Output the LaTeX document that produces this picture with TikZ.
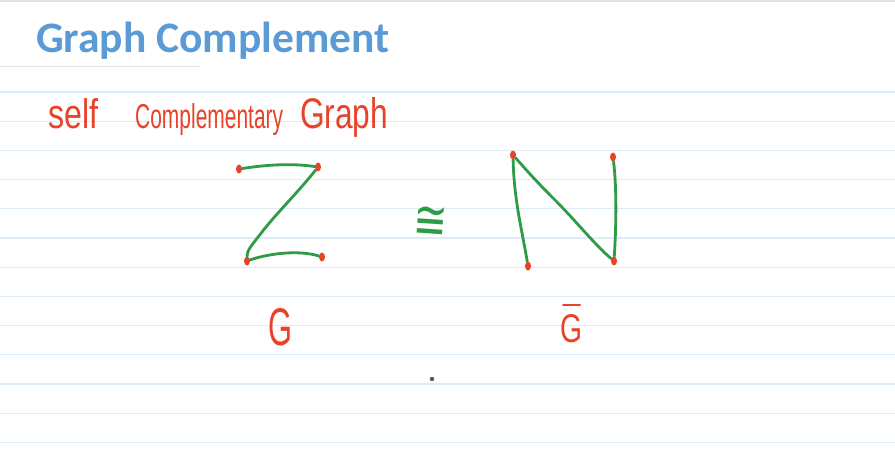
\documentclass[tikz,border=0pt]{standalone}
\usepackage{fontspec}
\usetikzlibrary{shapes.geometric}
\setmainfont{Liberation Sans}
\newfontfamily\titlefont{Carlito}
\newfontfamily\symfont{DejaVu Sans}
\definecolor{rule}{RGB}{222,236,248}
\definecolor{titleblue}{RGB}{91,155,213}
\definecolor{ink}{RGB}{232,66,40}
\definecolor{edge}{RGB}{46,155,70}
\begin{document}
\begin{tikzpicture}[x=1pt,y=-1pt,
  ruleline/.style={draw=rule,line width=1.2pt},
  vtx/.style={ellipse,fill=ink,inner sep=0pt,minimum width=6pt,minimum height=9pt},
  gedge/.style={draw=edge,line width=2.8pt,line cap=round,line join=round},
  hand/.style={text=ink,inner sep=0pt,anchor=base west}]
\useasboundingbox (0,0) rectangle (895,466);
\fill[white] (0,0) rectangle (895,466);
\draw[draw=black!12,line width=2pt] (0,1) -- (895,1);
\draw[draw=black!10,line width=1pt] (0,66) -- (200,66);
\foreach \k in {0,...,12} {\draw[ruleline] (0,92+29.2*\k) -- (895,92+29.2*\k);}
\node[anchor=base west,inner sep=0pt,text=titleblue] (title) at (36,52)
  {\titlefont\bfseries\fontsize{43.5}{48}\selectfont Graph Complement};
% handwritten subtitle
\node[hand] (w1) at (48,128) {\resizebox{50pt}{30pt}{self}};
\node[hand] (w2) at (135,128) {\resizebox{148pt}{25pt}{Complementary}};
\node[hand] (w3) at (300,128) {\resizebox{88pt}{31pt}{Graph}};
% graph G (Z shape)
\node[vtx] (a) at (239,169) {};
\node[vtx] (b) at (318,167) {};
\node[vtx] (c) at (247,261) {};
\node[vtx] (d) at (322,257) {};
\draw[gedge] (a) .. controls (265,165) and (290,163) .. (b);
\draw[gedge] (b) .. controls (300,190) and (275,215) .. (262,232) .. controls (252,245) and (247,250) .. (c);
\draw[gedge] (c) .. controls (270,253) and (300,250) .. (d);
% isomorphism symbol
\node[text=edge,inner sep=0pt,rotate=-4] (iso) at (431,223) {\resizebox{34pt}{32pt}{\symfont ≅}};
% complement (N shape)
\node[vtx] (p) at (513,155) {};
\node[vtx] (q) at (528,266) {};
\node[vtx] (r) at (613,157) {};
\node[vtx] (s) at (614,261) {};
\draw[gedge] (p) .. controls (514,200) and (522,230) .. (q);
\draw[gedge] (p) .. controls (535,180) and (545,190) .. (555,200) .. controls (575,220) and (595,245) .. (s);
\draw[gedge] (r) .. controls (617,190) and (616,230) .. (s);
% labels
\node[hand] (gl) at (268,345) {\resizebox{24pt}{37pt}{G}};
\node[hand] (gbar) at (560,342) {\resizebox{22pt}{28pt}{G}};
\draw[draw=ink,line width=2pt,line cap=round] (563,305) -- (580,305);
\fill[black!40!edge!70!gray] (432,379) circle (2.2pt);
\end{tikzpicture}
\end{document}
